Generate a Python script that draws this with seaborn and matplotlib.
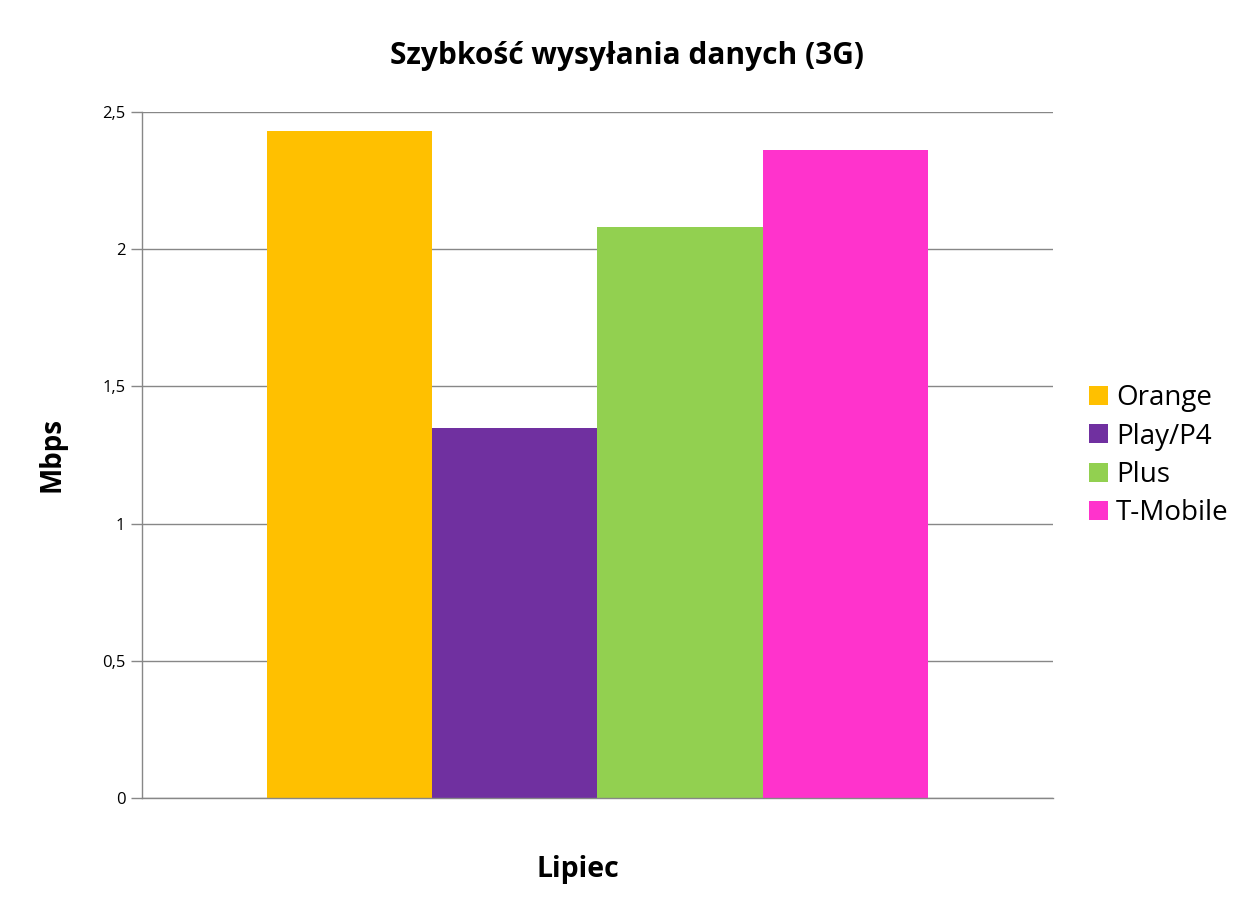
import pandas as pd
import matplotlib
matplotlib.use("Agg")
import matplotlib.pyplot as plt
from matplotlib.ticker import FuncFormatter
import seaborn as sns

# data #
month = ["Lipiec"]
operators = ["Orange", "Play/P4", "Plus", "T-Mobile"]
speed = [2.43, 1.35, 2.08, 2.36]
colors = ["#FFC000", "#7030A0", "#92D050", "#FF33CC"]
y_ticks = [0, 0.5, 1, 1.5, 2, 2.5]

df = pd.DataFrame({"Miesiac": month * len(operators), "Operator": operators, "Mbps": speed})

sns.set_theme(style="white")
plt.rcParams['font.family'] = ['Open Sans', 'DejaVu Sans']
plt.rcParams['text.color'] = 'black'
plt.rcParams['axes.labelcolor'] = 'black'
plt.rcParams['ytick.labelcolor'] = 'black'

fig = plt.figure(figsize=(12.54, 9.07), dpi=100)
ax = fig.add_axes([0.1132, 0.1202, 0.7265, 0.7563])

sns.barplot(data=df, x="Miesiac", y="Mbps", hue="Operator", palette=colors,
            width=0.725, saturation=1, ax=ax, linewidth=0)

ax.set_xlim(-0.5, 0.5)
ax.set_ylim(0, 2.5)
ax.set_yticks(y_ticks)
ax.yaxis.set_major_formatter(FuncFormatter(lambda v, p: ('%g' % v).replace('.', ',')))
ax.set_xticks([])
ax.grid(axis='y', color='#878787', linewidth=1)
ax.set_axisbelow(True)
for s in ['top', 'right']:
    ax.spines[s].set_visible(False)
for s in ['left', 'bottom']:
    ax.spines[s].set_color('#878787')
    ax.spines[s].set_linewidth(1)
ax.tick_params(axis='y', left=True, length=8, width=1, color='#878787', labelsize=12, pad=4)

ax.set_xlabel("Lipiec", fontsize=20.5, fontweight='bold')
ax.xaxis.set_label_coords(0.4786, -0.083)
ax.set_ylabel("Mbps", fontsize=20, fontweight='bold')
ax.yaxis.set_label_coords(-0.083, 0.5)
fig.text(0.5, 0.9385, "Szybkość wysyłania danych (3G)", fontsize=21.5, fontweight='bold',
         ha='center', va='center')

ax.legend(loc='center left', bbox_to_anchor=(1.0395, 0.499), frameon=False, fontsize=20,
          handlelength=0.67, handleheight=0.67, handletextpad=0.3, labelspacing=0.37,
          borderpad=0, borderaxespad=0)

plt.savefig("out.png", dpi=100)
